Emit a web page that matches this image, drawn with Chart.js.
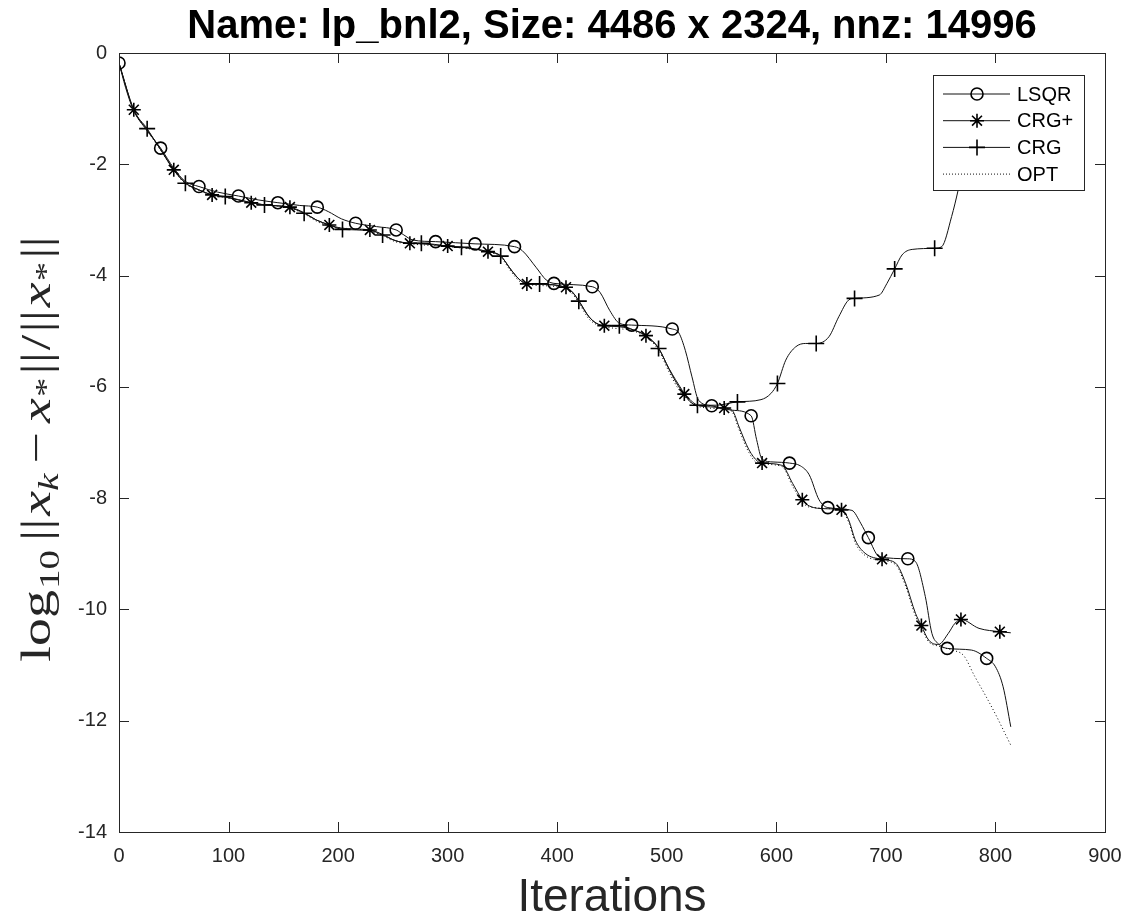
<!DOCTYPE html>
<html lang="en">
<head>
    <meta charset="UTF-8">
    <title>lp_bnl2 convergence</title>
    <script src="https://cdn.jsdelivr.net/npm/chart.js"></script>
    <style>
        body { margin: 0; background: #fff; }
        #wrap { width: 1127px; height: 919px; position: relative; }
    </style>
</head>
<body>
    <div id="wrap"><canvas id="convChart"></canvas></div>

    <script>
        // [iteration, log10 error, marker?]
        const lsqrPts = [
            [0,-0.18,1],[6,-0.62],[13,-1.02],[25,-1.38],[38,-1.71,1],[50,-2.07],[60,-2.30],[73,-2.40,1],
            [90,-2.50],[109,-2.57,1],[127,-2.64],[145,-2.69,1],[165,-2.74],[181,-2.77,1],[191,-2.85],
            [203,-2.98],[216,-3.06,1],[235,-3.12],[253,-3.18,1],[260,-3.27],[268,-3.36],[289,-3.39,1],
            [325,-3.43,1],[361,-3.48,1],[368,-3.55],[381,-3.86],[390,-4.08],[397,-4.14,1],[432,-4.20,1],
            [439,-4.30],[448,-4.63],[457,-4.86],[468,-4.89,1],[505,-4.96,1],[511,-5.03],[517,-5.35],
            [523,-5.82],[529,-6.24],[541,-6.34,1],[560,-6.42],[577,-6.52,1],[582,-6.95],[587,-7.30],
            [597,-7.35],[612,-7.37,1],[622,-7.42],[630,-7.58],[639,-8.03],[647,-8.17,1],[669,-8.22],
            [677,-8.45],[684,-8.71,1],[694,-9.05],[720,-9.09,1],[727,-9.14],[736,-9.77],[742,-10.43],
            [748,-10.62],[756,-10.70,1],[778,-10.73],[792,-10.88,1],[800,-11.03],[807,-11.39],[814,-12.11]
        ];
        const crgPlusPts = [
            [0,-0.18],[13.5,-1.02,1],[25.7,-1.38],[38,-1.73],[50,-2.10,1],[60.6,-2.33],[73,-2.46],
            [85,-2.55,1],[97,-2.59],[120.7,-2.69,1],[133,-2.73],[156,-2.77,1],[169,-2.87],[180,-3.00],
            [192,-3.09,1],[204,-3.15],[229,-3.18,1],[240.6,-3.26],[252,-3.37],[265.5,-3.42,1],[276,-3.43],
            [300,-3.47,1],[312.6,-3.49],[336.8,-3.57,1],[348,-3.64],[358,-3.90],[366,-4.08],[372.3,-4.15,1],
            [384,-4.16],[408,-4.21,1],[414,-4.30],[420,-4.46],[429,-4.74],[436,-4.86],[443,-4.90,1],
            [457,-4.92],[470,-4.98],[481,-5.08,1],[492.5,-5.30],[502,-5.68],[511,-6.00],[516,-6.13,1],
            [523.5,-6.27],[528,-6.33],[540,-6.36],[552.4,-6.38,1],[560,-6.43],[566,-6.72],[575,-7.13],
            [583,-7.34],[587,-7.37,1],[605,-7.41],[615,-7.74],[623.7,-8.03,1],[630,-8.14],[645,-8.19],
            [659.5,-8.21,1],[666,-8.39],[672,-8.75],[681,-8.99],[696.5,-9.10,1],[709,-9.17],[718,-9.53],
            [727,-10.07],[732.4,-10.29,1],[739,-10.55],[748,-10.63],[757,-10.43],[763,-10.25],
            [768.5,-10.18,1],[785,-10.34],[804,-10.40,1],[814,-10.42]
        ];
        const crgPts = [
            [0,-0.18],[13.5,-1.02],[25.7,-1.36,1],[38,-1.74],[50,-2.10],[60.6,-2.34,1],[73,-2.46],
            [85,-2.55],[97,-2.58,1],[120.7,-2.69],[132.8,-2.73,1],[156,-2.78],[169,-2.88,1],[180,-3.00],
            [192,-3.09],[204,-3.17,1],[229,-3.19],[240.6,-3.27,1],[252,-3.37],[265.5,-3.42],[276,-3.42,1],
            [300,-3.47],[312.6,-3.49,1],[336.8,-3.57],[348.4,-3.65,1],[358,-3.90],[366,-4.08],[372,-4.14],
            [383.9,-4.15,1],[408,-4.22],[414,-4.30],[419.7,-4.46,1],[429,-4.74],[436,-4.86],[443,-4.90],
            [456.7,-4.90,1],[470,-4.98],[481,-5.08],[492.5,-5.31,1],[502,-5.67],[514,-6.06],[520,-6.24],
            [528,-6.33,1],[545,-6.33],[564.5,-6.27,1],[586,-6.23],[595,-6.12],[601,-5.94,1],[608.6,-5.52],
            [617.7,-5.28],[626.8,-5.22],[636.4,-5.22,1],[648,-5.10],[657,-4.74],[666,-4.44],[671.4,-4.41,1],
            [694,-4.35],[701,-4.14],[708,-3.88,1],[714.7,-3.63],[724,-3.53],[744.5,-3.51,1],[751,-3.48],
            [760,-2.94],[766,-2.46],[772,-1.90],[778,-1.50]
        ];
        const optPts = [
            [0,-0.18],[13.5,-1.03],[25.7,-1.39],[38,-1.75],[50,-2.11],[60.6,-2.35],[73,-2.47],[85,-2.56],
            [97,-2.60],[120.7,-2.70],[156,-2.79],[169,-2.89],[180,-3.02],[192,-3.11],[229,-3.20],
            [240.6,-3.28],[252,-3.39],[265.5,-3.43],[300,-3.48],[336.8,-3.58],[348,-3.66],[358,-3.93],
            [366,-4.11],[372.3,-4.16],[408,-4.23],[414,-4.33],[420,-4.50],[429,-4.78],[436,-4.88],
            [443,-4.92],[470,-5.00],[481,-5.10],[492.5,-5.34],[502,-5.73],[511,-6.05],[516,-6.17],
            [528,-6.35],[552.4,-6.40],[560,-6.46],[566,-6.77],[575,-7.18],[583,-7.37],[605,-7.43],
            [615,-7.79],[623.7,-8.07],[630,-8.16],[659.5,-8.23],[666,-8.43],[672,-8.80],[681,-9.03],
            [696.5,-9.12],[709,-9.20],[718,-9.58],[727,-10.12],[732.4,-10.33],[739,-10.58],[748,-10.66],
            [760,-10.73],[771,-10.83],[781,-11.20],[791,-11.55],[801,-11.92],[808,-12.20],[814,-12.44]
        ];

        const seriesNames = ['LSQR', 'CRG+', 'CRG', 'OPT'];
        const xTicks = [0, 100, 200, 300, 400, 500, 600, 700, 800, 900];
        const yTicks = [-14, -12, -10, -8, -6, -4, -2, 0];
        const chartTitle = 'Name: lp_bnl2, Size: 4486 x 2324, nnz: 14996';
        const xLabel = 'Iterations';

        const axisColor = '#262626';

        function toXY(pts) {
            return pts.map(p => ({ x: p[0], y: p[1], m: p[2] === 1 }));
        }

        function markerRadius(r) {
            return ctx => (ctx.raw && ctx.raw.m) ? r : 0;
        }

        function lineSet(label, pts, style, r) {
            return {
                label: label,
                data: toXY(pts),
                borderColor: '#111',
                borderWidth: 1,
                backgroundColor: 'rgba(0,0,0,0)',
                pointStyle: style,
                pointRadius: markerRadius(r),
                pointBorderColor: '#000',
                pointBorderWidth: 1.6,
                pointBackgroundColor: 'rgba(0,0,0,0)',
                cubicInterpolationMode: 'monotone',
                tension: 0.4,
                fill: false
            };
        }

        // marker glyphs for the legend
        function drawMarker(c, style, x, y, r) {
            c.beginPath();
            if (style === 'circle') {
                c.arc(x, y, r, 0, Math.PI * 2);
            } else {
                c.moveTo(x - r, y); c.lineTo(x + r, y);
                c.moveTo(x, y - r); c.lineTo(x, y + r);
                if (style === 'star') {
                    const d = r * Math.SQRT1_2;
                    c.moveTo(x - d, y - d); c.lineTo(x + d, y + d);
                    c.moveTo(x - d, y + d); c.lineTo(x + d, y - d);
                }
            }
            c.stroke();
        }

        function drawYLabel(c, cx, cy) {
            const S = 56;
            const serif = '"Liberation Serif", "DejaVu Serif", serif';
            // text, italic, size factor, baseline shift (em), gap before (px)
            const parts = [
                ['log', false, 1, 0, 0],
                ['10', false, 0.7, 0.22, 1],
                ['||', false, 1, 0, 9],
                ['x', true, 1, 0, 3],
                ['k', true, 0.7, 0.2, 0],
                ['\u2212', false, 1, 0, 10],
                ['x', true, 1, 0, 9],
                ['*', false, 0.7, 0.12, 1],
                ['||', false, 1, 0, 3],
                ['/', false, 1, 0, 2],
                ['||', false, 1, 0, 2],
                ['x', true, 1, 0, 3],
                ['*', false, 0.7, 0.12, 1],
                ['||', false, 1, 0, 3]
            ];
            let total = 0;
            const widths = parts.map(p => {
                c.font = (p[1] ? 'italic ' : '') + Math.round(S * p[2]) + 'px ' + serif;
                const w = c.measureText(p[0]).width;
                total += w + p[4];
                return w;
            });
            c.save();
            c.translate(cx, cy);
            c.rotate(-Math.PI / 2);
            c.scale(1, 0.75);
            c.fillStyle = axisColor;
            c.textBaseline = 'alphabetic';
            c.textAlign = 'left';
            let pos = -total / 2;
            parts.forEach((p, i) => {
                pos += p[4];
                c.font = (p[1] ? 'italic ' : '') + Math.round(S * p[2]) + 'px ' + serif;
                c.fillText(p[0], pos, p[3] * S);
                pos += widths[i];
            });
            c.restore();
        }

        const matlabFrame = {
            id: 'matlabFrame',
            afterDraw(chart) {
                const c = chart.ctx;
                const a = chart.chartArea;
                const xs = chart.scales.x;
                const ys = chart.scales.y;
                c.save();
                c.strokeStyle = axisColor;
                c.lineWidth = 1;
                // inward ticks on all four sides
                c.beginPath();
                xTicks.forEach(v => {
                    const px = Math.round(xs.getPixelForValue(v)) + 0.5;
                    c.moveTo(px, a.bottom); c.lineTo(px, a.bottom - 10);
                    c.moveTo(px, a.top); c.lineTo(px, a.top + 10);
                });
                yTicks.forEach(v => {
                    const py = Math.round(ys.getPixelForValue(v)) + 0.5;
                    c.moveTo(a.left, py); c.lineTo(a.left + 10, py);
                    c.moveTo(a.right, py); c.lineTo(a.right - 10, py);
                });
                c.stroke();
                c.strokeRect(Math.round(a.left) + 0.5, Math.round(a.top) + 0.5,
                    Math.round(a.right - a.left), Math.round(a.bottom - a.top));

                // legend box
                const lx = 933, ly = 75, lw = 151, lh = 115;
                c.fillStyle = '#fff';
                c.fillRect(lx, ly, lw, lh);
                c.strokeRect(lx + 0.5, ly + 0.5, lw, lh);
                const styles = ['circle', 'star', 'cross', null];
                const radii = [6, 7, 8, 0];
                c.font = '20px "Liberation Sans", Arial, sans-serif';
                c.textBaseline = 'middle';
                c.textAlign = 'left';
                seriesNames.forEach((name, i) => {
                    const y = ly + 19 + i * 26.7;
                    c.strokeStyle = '#111';
                    c.lineWidth = 1;
                    c.setLineDash(styles[i] ? [] : [1, 2]);
                    c.beginPath();
                    c.moveTo(943, y); c.lineTo(1010, y);
                    c.stroke();
                    c.setLineDash([]);
                    if (styles[i]) {
                        c.strokeStyle = '#000';
                        c.lineWidth = 1.6;
                        drawMarker(c, styles[i], 977, y, radii[i]);
                    }
                    c.fillStyle = '#000';
                    c.fillText(name, 1017, y + 1);
                });

                // title and axis labels
                const mid = (a.left + a.right) / 2;
                c.textAlign = 'center';
                c.textBaseline = 'alphabetic';
                c.fillStyle = '#000';
                c.font = 'bold 40px "Liberation Sans", Arial, sans-serif';
                c.fillText(chartTitle, mid, 38);
                c.fillStyle = axisColor;
                c.font = '46px "Liberation Sans", Arial, sans-serif';
                c.fillText(xLabel, mid, 911);
                drawYLabel(c, 50, 449);
                c.restore();
            }
        };

        const tickFont = { family: '"Liberation Sans", Arial, sans-serif', size: 20 };

        new Chart(document.getElementById('convChart'), {
            type: 'line',
            data: {
                datasets: [
                    lineSet('LSQR', lsqrPts, 'circle', 6),
                    lineSet('CRG+', crgPlusPts, 'star', 7),
                    lineSet('CRG', crgPts, 'cross', 8),
                    Object.assign(lineSet('OPT', optPts, 'circle', 0), { borderDash: [1, 2.5], borderColor: '#000' })
                ]
            },
            options: {
                responsive: true,
                maintainAspectRatio: false,
                animation: false,
                events: [],
                layout: { padding: { left: 0, right: 22, top: 53, bottom: 0 } },
                plugins: {
                    legend: { display: false },
                    title: { display: false },
                    tooltip: { enabled: false }
                },
                scales: {
                    x: {
                        type: 'linear', min: 0, max: 900,
                        afterBuildTicks: s => { s.ticks = xTicks.map(v => ({ value: v })); },
                        afterFit: s => { s.height = 87; s.paddingLeft = 0; s.paddingRight = 0; },
                        grid: { display: false, drawTicks: false },
                        border: { display: false },
                        ticks: { color: axisColor, font: tickFont, padding: 12, maxRotation: 0 }
                    },
                    y: {
                        type: 'linear', min: -14, max: 0,
                        afterBuildTicks: s => { s.ticks = yTicks.map(v => ({ value: v })); },
                        afterFit: s => { s.width = 119; s.paddingTop = 0; s.paddingBottom = 0; },
                        grid: { display: false, drawTicks: false },
                        border: { display: false },
                        ticks: { color: axisColor, font: tickFont, padding: 12 }
                    }
                }
            },
            plugins: [matlabFrame]
        });
    </script>
</body>
</html>
